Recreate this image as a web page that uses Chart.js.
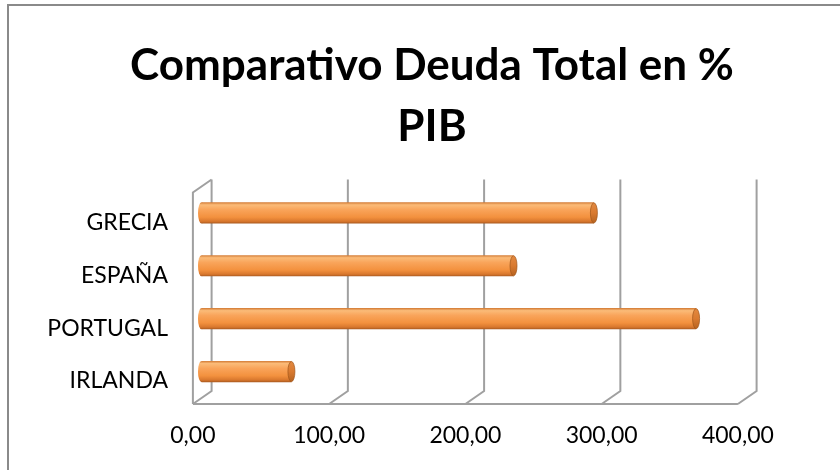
<!DOCTYPE html>
<html>
<head>
<meta charset="utf-8">
<script src="https://cdn.jsdelivr.net/npm/chart.js@4"></script>
<style>
  html, body { margin: 0; padding: 0; background: #fff; }
</style>
</head>
<body>
<canvas id="chart" width="840" height="470"></canvas>
<script>
'use strict';

let paises = ['GRECIA', 'ESPAÑA', 'PORTUGAL', 'IRLANDA'];
let deudaPib = [288, 229, 363, 66];
let escalaX = [0, 100, 200, 300, 400];
let titulo = ['Comparativo Deuda Total en %', 'PIB'];

let canvasElem = document.getElementById('chart');

// fondo 3D: profundidad de la caja y posicion de las barras dentro de ella
const fondoX = 18.7, fondoY = -13, planoBarras = 0.46;

function gradienteCuerpo(ctx, y, h) {
  let g = ctx.createLinearGradient(0, y - h, 0, y + h);
  g.addColorStop(0, '#d27a34');
  g.addColorStop(0.12, '#fbbb78');
  g.addColorStop(0.35, '#f9a45a');
  g.addColorStop(0.7, '#f3913e');
  g.addColorStop(0.9, '#d8772d');
  g.addColorStop(1, '#a9591f');
  return g;
}

const marco3d = {
  id: 'marco3d',
  beforeDraw(chart) {
    let ctx = chart.ctx;
    ctx.save();
    ctx.fillStyle = '#fff';
    ctx.fillRect(0, 0, chart.width, chart.height);
    ctx.strokeStyle = '#8a8a8a';
    ctx.lineWidth = 2;
    ctx.strokeRect(8, 5, 1000, 1000);
    ctx.restore();
  },
  beforeDatasetsDraw(chart) {
    let ctx = chart.ctx;
    let ca = chart.chartArea;
    let x = chart.scales.x;
    let bx = (1 - planoBarras) * fondoX, by = (1 - planoBarras) * fondoY;
    let fx = -planoBarras * fondoX, fy = -planoBarras * fondoY;
    let x0 = x.getPixelForValue(escalaX[0]);
    let x1 = x.getPixelForValue(escalaX[escalaX.length - 1]);
    ctx.save();
    ctx.strokeStyle = '#a0a0a0';
    ctx.lineWidth = 2;
    ctx.beginPath();
    escalaX.forEach(v => {
      let px = x.getPixelForValue(v);
      ctx.moveTo(px + bx, ca.top + by);
      ctx.lineTo(px + bx, ca.bottom + by);
      ctx.lineTo(px + fx, ca.bottom + fy);
    });
    // borde frontal del suelo
    ctx.moveTo(x0 + fx, ca.bottom + fy);
    ctx.lineTo(x1 + fx, ca.bottom + fy);
    // pared lateral izquierda
    ctx.moveTo(x0 + bx, ca.top + by);
    ctx.lineTo(x0 + fx, ca.top + fy);
    ctx.lineTo(x0 + fx, ca.bottom + fy);
    ctx.stroke();
    ctx.restore();
  },
  afterDatasetsDraw(chart) {
    let ctx = chart.ctx;
    let meta = chart.getDatasetMeta(0);
    meta.data.forEach(bar => {
      let p = bar.getProps(['x', 'y', 'base', 'height'], true);
      let h = p.height / 2, rx = 3.5;
      ctx.save();
      // extremo izquierdo redondeado
      ctx.fillStyle = gradienteCuerpo(ctx, p.y, h);
      ctx.beginPath();
      ctx.ellipse(p.base, p.y, rx, h, 0, 0, Math.PI * 2);
      ctx.fill();
      // tapa del cilindro
      let g = ctx.createLinearGradient(0, p.y - h, 0, p.y + h);
      g.addColorStop(0, '#e38a41');
      g.addColorStop(0.5, '#d97a30');
      g.addColorStop(1, '#b5621f');
      ctx.fillStyle = g;
      ctx.strokeStyle = 'rgba(160,85,25,0.7)';
      ctx.lineWidth = 1;
      ctx.beginPath();
      ctx.ellipse(p.x, p.y, rx, h - 0.5, 0, 0, Math.PI * 2);
      ctx.fill();
      ctx.stroke();
      ctx.restore();
    });
  }
};

Chart.defaults.font.family = 'Lato';

const data = {
  labels: paises,
  datasets: [
    {
      label: 'Deuda Total en % PIB',
      data: deudaPib,
      borderWidth: 0,
      barPercentage: 0.4,
      categoryPercentage: 1,
      backgroundColor: (c) => {
        let chart = c.chart;
        let ys = chart.scales.y;
        if (!chart.chartArea || !ys) {
          return '#f79646';
        }
        let banda = (chart.chartArea.bottom - chart.chartArea.top) / paises.length;
        return gradienteCuerpo(chart.ctx, ys.getPixelForValue(c.dataIndex), banda * 0.4 / 2);
      }
    }
  ]
};

const config = {
  type: 'bar',
  data: data,
  plugins: [marco3d],
  options: {
    indexAxis: 'y',
    responsive: false,
    animation: false,
    layout: {
      padding: { left: 24, right: 0, top: 0, bottom: 0 }
    },
    plugins: {
      legend: { display: false },
      tooltip: { enabled: false },
      title: {
        display: true,
        text: titulo,
        color: '#000',
        font: { size: 44, weight: 'bold', family: 'Lato', lineHeight: 1.386 },
        padding: { top: 35, bottom: 29.5 }
      }
    },
    scales: {
      x: {
        min: 0,
        max: 400,
        grid: { display: false, drawTicks: false },
        border: { display: false },
        ticks: {
          color: '#000',
          font: { size: 23 },
          padding: 24,
          labelOffset: -8.6,
          maxRotation: 0,
          autoSkip: false,
          callback: v => v.toFixed(2).replace('.', ',')
        },
        afterBuildTicks: s => { s.ticks = escalaX.map(v => ({ value: v })); },
        afterFit: s => { s.height = 72; }
      },
      y: {
        grid: { display: false, drawTicks: false },
        border: { display: false },
        ticks: {
          color: '#000',
          font: { size: 23 },
          padding: 33.5,
          labelOffset: 9.5
        },
        afterFit: s => { s.width = 177.5; }
      },
      // margen derecho vacio, deja el titulo centrado en todo el ancho
      yDer: {
        type: 'category',
        position: 'right',
        grid: { display: false, drawTicks: false },
        border: { display: false },
        ticks: { display: false },
        afterFit: s => { s.width = 93.5; }
      }
    }
  }
};

new Chart(canvasElem, config);
</script>
</body>
</html>
